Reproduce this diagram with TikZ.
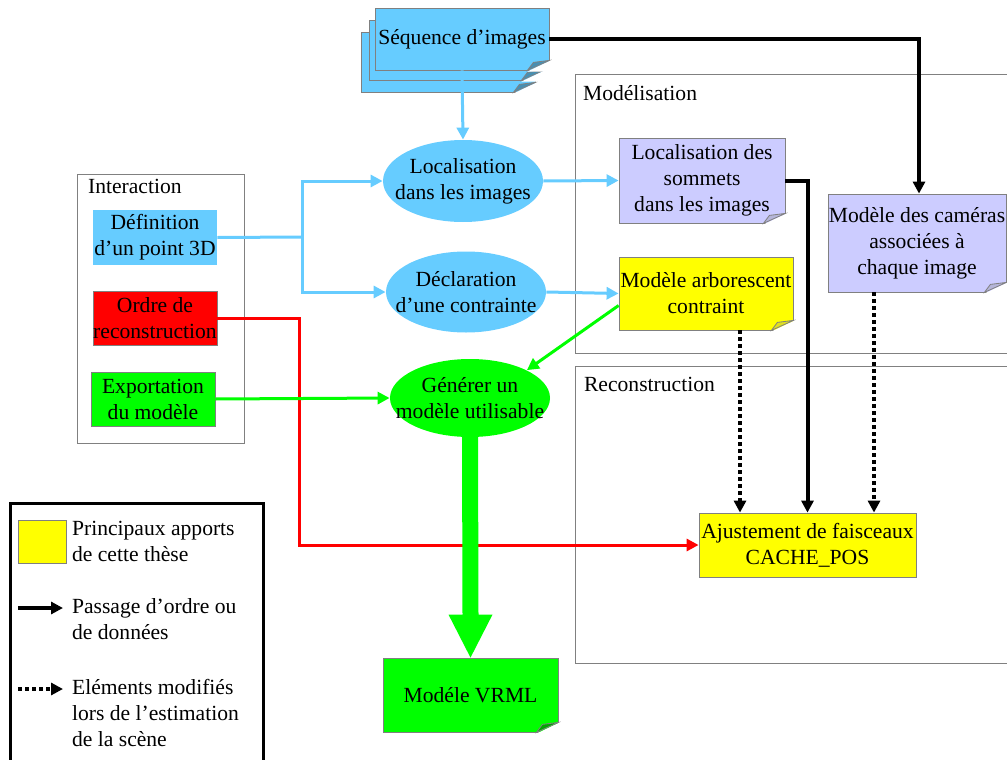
\documentclass[tikz,border=0pt]{standalone}
\usepackage{fontspec}
\setmainfont{Liberation Serif}
\usepackage{xcolor}
\usepackage{tikz}
\usetikzlibrary{shapes.geometric,arrows.meta}

\definecolor{bleuciel}{RGB}{102,204,255}
\definecolor{lavande}{RGB}{204,204,255}
\definecolor{jaune}{RGB}{255,255,0}
\definecolor{rouge}{RGB}{255,0,0}
\definecolor{vert}{RGB}{0,255,0}
\definecolor{cadre}{RGB}{128,128,128}

% coin replie en bas a droite d'une boite
\newcommand{\pliure}[2]{%
  \fill[white] ([xshift=-11pt,yshift=-0.6pt]#1.south east) -- ([xshift=0.6pt,yshift=-0.6pt]#1.south east)
    -- ([xshift=0.6pt,yshift=5pt]#1.south east) -- cycle;
  \draw[cadre, fill=#2] ([xshift=-11pt]#1.south east) -- ([yshift=5pt]#1.south east)
    -- ([xshift=-8pt,yshift=4pt]#1.south east) -- cycle;
}

\begin{document}
\begin{tikzpicture}[x=0.5pt, y=-0.5pt,
  every node/.style={font=\fontsize{10.8}{13}\selectfont},
  boite/.style={draw=cadre, inner sep=0pt, align=center},
  bulle/.style={ellipse, inner sep=0pt},
  fleche/.style={-{Triangle[length=6pt,width=6pt]}},
  lienbleu/.style={bleuciel, line width=1.5pt},
  lienrouge/.style={rouge, line width=1.5pt},
  lienvert/.style={vert, line width=1.5pt},
  noir/.style={black, line width=2pt},
  pointille/.style={black, line width=2pt, dash pattern=on 2pt off 1.5pt}]
\useasboundingbox (0,0) rectangle (1007,760);

% cadres des groupes
\draw[cadre] (77,174) rectangle (244,443);
\node[anchor=west] (interaction) at (81,186) {Interaction};
\draw[cadre] (575,74) rectangle (1015,353);
\node[anchor=west] (modelisation) at (576,93) {Modélisation};
\draw[cadre] (575,366) rectangle (1015,663);
\node[anchor=west] (reconstruction) at (577,384) {Reconstruction};

% sequence d'images
\node[boite, fill=bleuciel, minimum width=87pt, minimum height=30pt] (seq3) at (448,62) {};
\pliure{seq3}{bleuciel!70!black}
\node[boite, fill=bleuciel, minimum width=87pt, minimum height=30pt] (seq2) at (456,50) {};
\pliure{seq2}{bleuciel!70!black}
\node[boite, fill=bleuciel, minimum width=87pt, minimum height=31pt] (seq) at (462,39) {Séquence d’images};
\pliure{seq}{bleuciel!70!black}

% interaction
\node[boite, draw=none, fill=bleuciel, minimum width=62pt, minimum height=27.5pt] (def) at (155,237.5) {Définition\\d’un point 3D};
\node[boite, fill=rouge, minimum width=62pt, minimum height=27pt] (ordre) at (155,318) {Ordre de\\reconstruction};
\node[boite, fill=vert, minimum width=62pt, minimum height=27pt] (export) at (153,399) {Exportation\\du modèle};

% ellipses
\node[bulle, fill=bleuciel, minimum width=80pt, minimum height=41pt] (loc) at (463,181) {};
\node[align=center] (loc-t) at (loc) {Localisation\\dans les images};
\node[bulle, fill=bleuciel, minimum width=80pt, minimum height=40.5pt] (decl) at (466,292) {};
\node[align=center] (decl-t) at (decl) {Déclaration\\d’une contrainte};
\node[bulle, fill=vert, minimum width=80pt, minimum height=39pt] (gen) at (470,398) {};
\node[align=center] (gen-t) at (gen) {Générer un\\modèle utilisable};

% modelisation
\node[boite, fill=lavande, minimum width=83pt, minimum height=42.5pt] (som) at (702,180.5) {Localisation des\\sommets\\dans les images};
\pliure{som}{lavande!70!gray}
\node[boite, fill=jaune, minimum width=87pt, minimum height=36.5pt] (arbo) at (706,293.5) {Modèle arborescent\\contraint};
\pliure{arbo}{jaune!75!gray}
\node[boite, fill=lavande, minimum width=89pt, minimum height=49pt] (cam) at (917,243) {Modèle des caméras\\associées à\\chaque image};
\pliure{cam}{lavande!70!gray}

% reconstruction
\node[boite, fill=jaune, minimum width=108.5pt, minimum height=32pt] (ajust) at (807.5,545) {Ajustement de faisceaux\\CACHE\_POS};

% sortie
\node[boite, fill=vert, minimum width=87.5pt, minimum height=37pt] (vrml) at (470.5,695) {Modéle VRML};
\pliure{vrml}{vert!65!black}

% liens
\coordinate (bif) at (302,237);
\coordinate (coude) at (299,318);
\draw[lienbleu, fleche] (seq.south) -- (loc.north);
\draw[lienbleu] (def.east) -- (bif);
\draw[lienbleu, fleche] (bif) |- (loc.west);
\draw[lienbleu, fleche] (bif) |- (decl.west);
\draw[lienbleu, fleche] (loc.east) -- (som.west);
\draw[lienbleu, fleche] (decl.east) -- (arbo.west);
\draw[lienrouge, fleche] (ordre.east) -- (coude) |- (ajust.west);
\draw[lienvert, fleche] (export.east) -- (gen.west);
\draw[lienvert, fleche] ([yshift=-6pt]arbo.west) -- (gen.north east);
\draw[noir, fleche] (seq.east) -| ([xshift=1pt]cam.north);
\draw[noir, fleche] (som.east) -| (ajust.north);
\draw[pointille, fleche] ([xshift=17pt]arbo.south) -- ([xshift=17pt]arbo.south |- ajust.north);
\draw[pointille, fleche] ([xshift=-21.5pt]cam.south) -- ([xshift=-21.5pt]cam.south |- ajust.north);
\fill[vert] ([xshift=-4pt,yshift=2pt]gen.south) -- ([xshift=-4pt,yshift=21.5pt]vrml.north)
  -- ([xshift=-11pt,yshift=21.5pt]vrml.north) -- (vrml.north)
  -- ([xshift=11pt,yshift=21.5pt]vrml.north) -- ([xshift=4pt,yshift=21.5pt]vrml.north)
  -- ([xshift=4pt,yshift=2pt]gen.south) -- cycle;

% legende
\draw[line width=1.5pt] (10,503) rectangle (263,790);
\node[boite, fill=jaune, minimum width=24pt, minimum height=21.5pt] (carre) at (42,541.5) {};
\node[anchor=west, align=left] (leg1) at (65,541) {Principaux apports\\de cette thèse};
\coordinate (l1a) at (18,608);
\coordinate (l1b) at (63,608);
\draw[noir, fleche] (l1a) -- (l1b);
\node[anchor=west, align=left] (leg2) at (65,619) {Passage d’ordre ou\\de données};
\coordinate (l2a) at (18,689);
\coordinate (l2b) at (63,689);
\draw[pointille, fleche] (l2a) -- (l2b);
\node[anchor=west, align=left] (leg3) at (65,713) {Eléments modifiés\\lors de l’estimation\\de la scène};
\end{tikzpicture}
\end{document}
